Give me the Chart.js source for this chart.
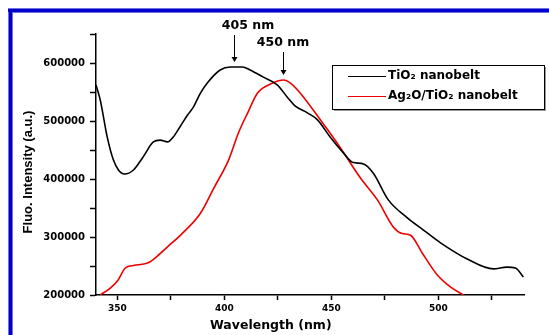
<!DOCTYPE html>
<html>
<head>
<meta charset="utf-8">
<script src="https://cdn.jsdelivr.net/npm/chart.js@4"></script>
<style>
  body { margin: 0; background: #fff; }
  canvas { display: block; }
</style>
</head>
<body>
<canvas id="myChart" width="549" height="335"></canvas>
<script>
// Values
var tio2Label = 'TiO\u2082 nanobelt';
var tio2Wavelength = [340, 342, 345.2, 348.1, 350.5, 353.3, 357.5, 362, 366.8, 370, 373.4, 376, 379.4, 382.7, 385.5, 388.8, 392, 398, 402.8, 408.4, 412, 418, 424.8, 429.4, 433, 438.8, 443.5, 449.5, 455.6, 459.8, 465, 469.6, 476.6, 485.5, 493, 501, 513.5, 525.7, 532, 536, 539.7];
var tio2Intensity = [562000, 536000, 473000, 433000, 415500, 408500, 415500, 438000, 464000, 467000, 464000, 472000, 491000, 510000, 524000, 548000, 565500, 588000, 593000, 593000, 588000, 576000, 562000, 541000, 526000, 514000, 502000, 472000, 445000, 429000, 426000, 410000, 364000, 333000, 312000, 290000, 262000, 245000, 248000, 246500, 231000];

var agLabel = 'Ag\u2082O/TiO\u2082 nanobelt';
var agWavelength = [342, 346.7, 350, 353.7, 357.5, 364, 368, 373.4, 380, 388.8, 395, 402, 406.5, 411, 415.4, 422.4, 427.6, 431, 435.5, 444.9, 454, 463.5, 471.5, 479, 483, 487, 492.5, 499.5, 505.6, 511.7];
var agIntensity = [200000, 212000, 224000, 246500, 251000, 255000, 265000, 283000, 305000, 341000, 384000, 433000, 479000, 515000, 548000, 565000, 570600, 565000, 548000, 501700, 455000, 402000, 364000, 317000, 306000, 303000, 272000, 234500, 214000, 200000];

var xTicks = [350, 375, 400, 425, 450, 475, 500, 525];
var yTicks = [200000, 250000, 300000, 350000, 400000, 450000, 500000, 550000, 600000, 650000];

// Peak labels: [text, wavelength, intensity, text centre x, text y]
var peakNotes = [
  ['405 nm', 404.5, 593000, 248, 26],
  ['450 nm', 427.6, 570600, 283, 43]
];

function toPoints(xs, ys) {
  var pts = [];
  for (var i = 0; i < xs.length; i++) {
    pts.push({x: xs[i], y: ys[i]});
  }
  return pts;
}

var boldFont = 'bold 12.5px "DejaVu Sans"';

// Blue frame round the figure
var framePlugin = {
  id: 'frame',
  beforeDraw: function(chart) {
    var c = chart.ctx;
    c.save();
    c.fillStyle = '#fff';
    c.fillRect(0, 0, chart.width, chart.height);
    c.fillStyle = '#6f6fe8';
    c.fillRect(8, 8, chart.width - 8, 5);
    c.fillRect(8, 8, 5, chart.height - 8);
    c.fillStyle = '#0000c8';
    c.fillRect(8, 9, chart.width - 8, 3);
    c.fillRect(9, 9, 3, chart.height - 9);
    c.restore();
  }
};

// Axis titles, arrows and the boxed legend
var notesPlugin = {
  id: 'notes',
  afterDraw: function(chart) {
    var c = chart.ctx;
    var xs = chart.scales.x, ys = chart.scales.y;
    c.save();
    c.fillStyle = '#000';
    c.strokeStyle = '#000';

    c.font = boldFont;
    c.textAlign = 'left';
    c.textBaseline = 'middle';
    c.fillText('Wavelength (nm)', 210, 326);

    c.save();
    c.translate(28, 172);
    c.rotate(-Math.PI / 2);
    c.textAlign = 'center';
    c.font = 'bold 13px "Liberation Sans"';
    c.fillText('Fluo. Intensity (a.u.)', 0, 0);
    c.restore();

    peakNotes.forEach(function(n) {
      var px = Math.round(xs.getPixelForValue(n[1])) + 0.5;
      var tip = ys.getPixelForValue(n[2]) - 5;
      c.textAlign = 'center';
      c.font = boldFont;
      c.fillText(n[0], n[3], n[4]);
      c.lineWidth = 1;
      c.beginPath();
      c.moveTo(px, n[4] + 9);
      c.lineTo(px, tip - 4);
      c.stroke();
      c.beginPath();
      c.moveTo(px - 3, tip - 5);
      c.lineTo(px + 3, tip - 5);
      c.lineTo(px, tip);
      c.closePath();
      c.fill();
    });

    // legend box with shadow
    var bx = 332, by = 65, bw = 212, bh = 44;
    c.fillStyle = '#9a9a9a';
    c.fillRect(bx + bw, by + 2, 2, bh);
    c.fillRect(bx + 2, by + bh, bw, 2);
    c.fillStyle = '#fff';
    c.fillRect(bx, by, bw, bh);
    c.lineWidth = 1;
    c.strokeStyle = '#000';
    c.strokeRect(bx + 0.5, by + 0.5, bw, bh);
    chart.data.datasets.forEach(function(ds, i) {
      var ly = by + 11 + i * 20;
      c.strokeStyle = ds.borderColor;
      c.beginPath();
      c.moveTo(348, ly + 0.5);
      c.lineTo(386, ly + 0.5);
      c.stroke();
      c.fillStyle = '#000';
      c.textAlign = 'left';
      c.font = 'bold 12px "DejaVu Sans"';
      c.fillText(ds.label, 388, ly);
    });
    c.restore();
  }
};

var ctx = document.getElementById('myChart').getContext('2d');
var myChart = new Chart(ctx, {
  type: 'line',
  data: {
    datasets: [{
      label: tio2Label,
      data: toPoints(tio2Wavelength, tio2Intensity),
      borderColor: '#000000',
      borderWidth: 1.6,
      pointRadius: 0,
      cubicInterpolationMode: 'monotone'
    }, {
      label: agLabel,
      data: toPoints(agWavelength, agIntensity),
      borderColor: '#ee0000',
      borderWidth: 1.6,
      pointRadius: 0,
      cubicInterpolationMode: 'monotone'
    }]
  },
  options: {
    responsive: false,
    animation: false,
    layout: { padding: { top: 34, right: 25, left: 0, bottom: 0 } },
    plugins: {
      legend: { display: false },
      tooltip: { enabled: false }
    },
    scales: {
      x: {
        type: 'linear',
        min: 340,
        max: 540,
        afterBuildTicks: function(scale) {
          scale.ticks = xTicks.map(function(v) { return {value: v}; });
        },
        afterFit: function(scale) { scale.height = 40; },
        border: { color: '#000', width: 1.5 },
        grid: { drawOnChartArea: false, drawTicks: true, tickLength: 5, color: '#000', tickWidth: 1.5 },
        ticks: {
          autoSkip: false,
          maxRotation: 0,
          padding: 3,
          color: '#000',
          font: { family: 'DejaVu Sans', weight: 'bold', size: 9 },
          callback: function(v) { return v % 50 === 0 ? String(v) : ''; }
        }
      },
      y: {
        min: 200000,
        max: 650000,
        afterBuildTicks: function(scale) {
          scale.ticks = yTicks.map(function(v) { return {value: v}; });
        },
        afterFit: function(scale) { scale.width = 96; },
        border: { color: '#000', width: 1.5 },
        grid: { drawOnChartArea: false, drawTicks: true, tickLength: 6, color: '#000', tickWidth: 1.5 },
        ticks: {
          autoSkip: false,
          padding: 5,
          color: '#000',
          font: { family: 'DejaVu Sans', weight: 'bold', size: 10 },
          callback: function(v) { return v % 100000 === 0 ? String(v) : ''; }
        }
      }
    }
  },
  plugins: [framePlugin, notesPlugin]
});
</script>
</body>
</html>
